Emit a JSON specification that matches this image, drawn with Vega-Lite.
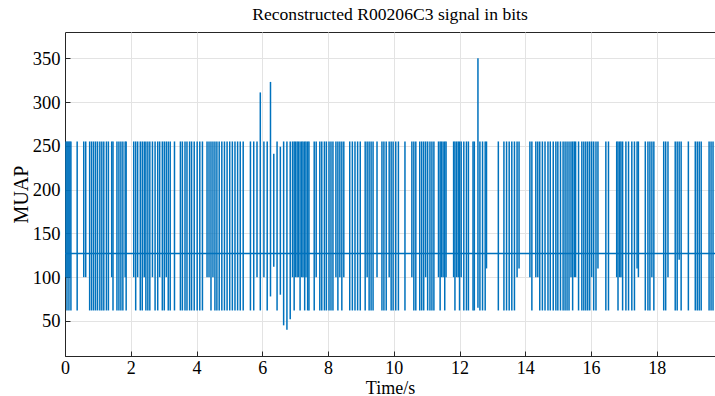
{
  "$schema": "https://vega.github.io/schema/vega-lite/v6.json",
  "width": 650,
  "height": 324,
  "autosize": {"type": "none"},
  "padding": {"left": 65, "top": 32, "right": 0, "bottom": 40},
  "background": "white",
  "title": {"text": "Reconstructed R00206C3 signal in bits", "font": "Liberation Serif", "fontSize": 17.6, "fontWeight": "normal", "color": "#000000", "offset": 8, "anchor": "middle"},
  "config": {
    "view": {"stroke": "#262626", "strokeWidth": 1},
    "axis": {"labelFont": "Liberation Serif", "labelFontSize": 18, "labelColor": "#000000", "titleFont": "Liberation Serif", "titleFontSize": 18, "titleFontWeight": "normal", "titleColor": "#000000", "domainColor": "#262626", "tickColor": "#262626", "gridColor": "#e3e3e3", "grid": true, "tickSize": -5}
  },
  "datasets": {
    "base": [{"level": 127}],
    "spikes": [
      {"t":0.03,"lo":100,"hi":255},{"t":0.06,"lo":62,"hi":255},{"t":0.09,"lo":100,"hi":255},{"t":0.12,"lo":62,"hi":255},{"t":0.15,"lo":100,"hi":255},{"t":0.18,"lo":62,"hi":255},
      {"t":0.37,"lo":62,"hi":255},{"t":0.57,"lo":100,"hi":255},{"t":0.63,"lo":100,"hi":255},{"t":0.75,"lo":62,"hi":255},{"t":0.81,"lo":62,"hi":255},{"t":0.87,"lo":62,"hi":255},{"t":0.93,"lo":62,"hi":255},{"t":0.99,"lo":62,"hi":255},{"t":1.06,"lo":62,"hi":255},{"t":1.12,"lo":62,"hi":255},{"t":1.18,"lo":62,"hi":255},{"t":1.26,"lo":62,"hi":255},{"t":1.32,"lo":62,"hi":255},{"t":1.42,"lo":100,"hi":255},{"t":1.46,"lo":62,"hi":255},{"t":1.58,"lo":62,"hi":255},{"t":1.64,"lo":62,"hi":255},{"t":1.70,"lo":62,"hi":255},{"t":1.76,"lo":62,"hi":255},{"t":1.83,"lo":100,"hi":255},{"t":1.86,"lo":62,"hi":255},
      {"t":2.09,"lo":100,"hi":255},{"t":2.15,"lo":62,"hi":255},{"t":2.21,"lo":100,"hi":255},{"t":2.29,"lo":62,"hi":255},{"t":2.35,"lo":62,"hi":255},{"t":2.41,"lo":100,"hi":255},{"t":2.46,"lo":62,"hi":255},{"t":2.52,"lo":62,"hi":255},{"t":2.58,"lo":62,"hi":255},{"t":2.66,"lo":100,"hi":255},{"t":2.74,"lo":62,"hi":255},{"t":2.82,"lo":62,"hi":255},{"t":2.88,"lo":100,"hi":255},{"t":2.96,"lo":62,"hi":255},{"t":3.02,"lo":62,"hi":255},{"t":3.08,"lo":100,"hi":255},{"t":3.14,"lo":62,"hi":255},{"t":3.20,"lo":62,"hi":255},{"t":3.33,"lo":62,"hi":255},
      {"t":3.51,"lo":62,"hi":255},{"t":3.57,"lo":62,"hi":255},{"t":3.65,"lo":62,"hi":255},{"t":3.71,"lo":62,"hi":255},{"t":3.79,"lo":62,"hi":255},{"t":3.85,"lo":62,"hi":255},{"t":3.93,"lo":62,"hi":255},{"t":4.02,"lo":62,"hi":255},{"t":4.10,"lo":62,"hi":255},{"t":4.18,"lo":62,"hi":255},{"t":4.32,"lo":100,"hi":255},{"t":4.38,"lo":100,"hi":255},{"t":4.44,"lo":62,"hi":255},{"t":4.50,"lo":100,"hi":255},{"t":4.56,"lo":62,"hi":255},{"t":4.62,"lo":62,"hi":255},{"t":4.69,"lo":62,"hi":255},{"t":4.77,"lo":62,"hi":255},{"t":4.85,"lo":62,"hi":255},{"t":4.93,"lo":62,"hi":255},
      {"t":5.01,"lo":62,"hi":255},{"t":5.09,"lo":62,"hi":255},{"t":5.17,"lo":62,"hi":255},{"t":5.25,"lo":62,"hi":255},{"t":5.33,"lo":62,"hi":255},{"t":5.42,"lo":62,"hi":255},{"t":5.64,"lo":62,"hi":255},{"t":5.74,"lo":62,"hi":255},{"t":5.84,"lo":100,"hi":255},{"t":5.94,"lo":62,"hi":311},{"t":6.05,"lo":100,"hi":255},{"t":6.15,"lo":62,"hi":255},{"t":6.25,"lo":78,"hi":323},{"t":6.35,"lo":112,"hi":241},{"t":6.45,"lo":62,"hi":255},{"t":6.55,"lo":80,"hi":249},{"t":6.65,"lo":45,"hi":255},{"t":6.75,"lo":40,"hi":255},{"t":6.85,"lo":52,"hi":255},
      {"t":6.92,"lo":100,"hi":255},{"t":6.97,"lo":62,"hi":255},{"t":7.01,"lo":100,"hi":255},{"t":7.06,"lo":100,"hi":255},{"t":7.10,"lo":100,"hi":255},{"t":7.15,"lo":62,"hi":255},{"t":7.20,"lo":100,"hi":255},{"t":7.24,"lo":100,"hi":255},{"t":7.29,"lo":62,"hi":255},{"t":7.33,"lo":100,"hi":255},{"t":7.38,"lo":62,"hi":255},{"t":7.42,"lo":62,"hi":255},
      {"t":7.58,"lo":62,"hi":255},{"t":7.64,"lo":100,"hi":255},{"t":7.75,"lo":62,"hi":255},{"t":7.81,"lo":62,"hi":255},{"t":7.89,"lo":62,"hi":255},{"t":7.95,"lo":62,"hi":255},{"t":8.03,"lo":62,"hi":255},{"t":8.09,"lo":62,"hi":255},{"t":8.15,"lo":62,"hi":255},{"t":8.24,"lo":100,"hi":255},{"t":8.30,"lo":62,"hi":255},{"t":8.36,"lo":100,"hi":255},{"t":8.42,"lo":62,"hi":255},{"t":8.48,"lo":100,"hi":255},
      {"t":8.66,"lo":62,"hi":255},{"t":8.74,"lo":62,"hi":255},{"t":8.82,"lo":62,"hi":255},{"t":8.90,"lo":62,"hi":255},{"t":8.98,"lo":62,"hi":255},{"t":9.13,"lo":62,"hi":255},{"t":9.19,"lo":100,"hi":255},{"t":9.25,"lo":62,"hi":255},{"t":9.31,"lo":62,"hi":255},{"t":9.37,"lo":62,"hi":255},{"t":9.49,"lo":100,"hi":255},{"t":9.64,"lo":62,"hi":255},{"t":9.70,"lo":62,"hi":255},{"t":9.77,"lo":62,"hi":255},{"t":9.86,"lo":100,"hi":255},{"t":9.92,"lo":62,"hi":255},
      {"t":9.98,"lo":62,"hi":255},{"t":10.06,"lo":62,"hi":255},{"t":10.14,"lo":62,"hi":255},{"t":10.34,"lo":62,"hi":255},{"t":10.55,"lo":100,"hi":255},{"t":10.61,"lo":62,"hi":255},{"t":10.67,"lo":62,"hi":255},{"t":10.79,"lo":62,"hi":255},{"t":10.85,"lo":62,"hi":255},{"t":10.91,"lo":62,"hi":255},{"t":10.97,"lo":100,"hi":255},{"t":11.03,"lo":62,"hi":255},{"t":11.10,"lo":62,"hi":255},{"t":11.16,"lo":62,"hi":255},{"t":11.22,"lo":62,"hi":255},
      {"t":11.36,"lo":100,"hi":255},{"t":11.41,"lo":62,"hi":255},{"t":11.45,"lo":100,"hi":255},{"t":11.50,"lo":100,"hi":255},{"t":11.55,"lo":62,"hi":255},{"t":11.59,"lo":100,"hi":255},
      {"t":11.82,"lo":100,"hi":255},{"t":11.86,"lo":62,"hi":255},{"t":11.91,"lo":100,"hi":255},{"t":11.96,"lo":100,"hi":255},{"t":12.00,"lo":62,"hi":255},{"t":12.05,"lo":100,"hi":255},{"t":12.13,"lo":62,"hi":255},{"t":12.21,"lo":62,"hi":255},{"t":12.27,"lo":62,"hi":255},{"t":12.41,"lo":62,"hi":255},
      {"t":12.45,"lo":62,"hi":255},{"t":12.56,"lo":65,"hi":350},{"t":12.62,"lo":62,"hi":255},{"t":12.70,"lo":62,"hi":255},{"t":12.78,"lo":62,"hi":255},{"t":12.82,"lo":110,"hi":255},
      {"t":13.18,"lo":62,"hi":255},{"t":13.35,"lo":62,"hi":255},{"t":13.43,"lo":62,"hi":255},{"t":13.51,"lo":62,"hi":255},{"t":13.59,"lo":62,"hi":255},{"t":13.67,"lo":62,"hi":255},{"t":13.75,"lo":100,"hi":255},{"t":13.81,"lo":110,"hi":255},
      {"t":14.14,"lo":100,"hi":255},{"t":14.20,"lo":62,"hi":255},{"t":14.32,"lo":100,"hi":255},{"t":14.38,"lo":100,"hi":255},{"t":14.44,"lo":62,"hi":255},{"t":14.52,"lo":62,"hi":255},{"t":14.60,"lo":62,"hi":255},{"t":14.69,"lo":62,"hi":255},{"t":14.76,"lo":62,"hi":255},{"t":14.85,"lo":62,"hi":255},{"t":14.93,"lo":62,"hi":255},
      {"t":14.99,"lo":62,"hi":255},{"t":15.07,"lo":62,"hi":255},{"t":15.15,"lo":62,"hi":255},{"t":15.21,"lo":62,"hi":255},{"t":15.27,"lo":62,"hi":255},{"t":15.33,"lo":62,"hi":255},{"t":15.39,"lo":100,"hi":255},{"t":15.44,"lo":62,"hi":255},{"t":15.49,"lo":100,"hi":255},{"t":15.53,"lo":100,"hi":255},{"t":15.62,"lo":62,"hi":255},{"t":15.72,"lo":62,"hi":255},{"t":15.78,"lo":62,"hi":255},{"t":15.84,"lo":62,"hi":255},{"t":15.90,"lo":62,"hi":255},{"t":15.96,"lo":62,"hi":255},{"t":16.02,"lo":100,"hi":255},{"t":16.08,"lo":62,"hi":255},{"t":16.15,"lo":62,"hi":255},{"t":16.21,"lo":110,"hi":255},
      {"t":16.45,"lo":62,"hi":255},{"t":16.53,"lo":62,"hi":255},{"t":16.78,"lo":100,"hi":255},{"t":16.82,"lo":62,"hi":255},{"t":16.87,"lo":100,"hi":255},{"t":16.91,"lo":100,"hi":255},{"t":16.96,"lo":62,"hi":255},{"t":17.06,"lo":62,"hi":255},{"t":17.14,"lo":62,"hi":255},{"t":17.24,"lo":62,"hi":255},{"t":17.32,"lo":62,"hi":255},{"t":17.40,"lo":110,"hi":255},{"t":17.44,"lo":100,"hi":255},
      {"t":17.65,"lo":62,"hi":255},{"t":17.73,"lo":62,"hi":255},{"t":17.79,"lo":62,"hi":255},{"t":17.85,"lo":100,"hi":255},{"t":17.91,"lo":62,"hi":255},{"t":18.21,"lo":62,"hi":255},{"t":18.27,"lo":62,"hi":255},{"t":18.34,"lo":100,"hi":255},{"t":18.56,"lo":62,"hi":255},{"t":18.62,"lo":62,"hi":255},{"t":18.68,"lo":120,"hi":255},{"t":18.74,"lo":62,"hi":255},{"t":18.96,"lo":62,"hi":255},
      {"t":19.17,"lo":62,"hi":255},{"t":19.23,"lo":62,"hi":255},{"t":19.29,"lo":62,"hi":255},{"t":19.35,"lo":62,"hi":255},{"t":19.59,"lo":62,"hi":255},{"t":19.65,"lo":62,"hi":255},{"t":19.71,"lo":62,"hi":255}
    ]
  },
  "layer": [
    {
      "data": {"name": "spikes"},
      "mark": {"type": "rule", "color": "#0072BD", "strokeWidth": 1.5},
      "encoding": {
        "x": {"field": "t", "type": "quantitative", "scale": {"domain": [0, 19.77], "nice": false, "zero": false}, "axis": {"title": "Time/s", "values": [0, 2, 4, 6, 8, 10, 12, 14, 16, 18], "labelPadding": 8, "titlePadding": 2, "labelFlush": false}},
        "y": {"field": "lo", "type": "quantitative", "scale": {"domain": [10, 380], "nice": false, "zero": false}, "axis": {"title": "MUAP", "titleFontSize": 20, "titleX": -34, "values": [50, 100, 150, 200, 250, 300, 350], "labelPadding": 10, "labelFontSize": 18.5, "labelFlush": false}},
        "y2": {"field": "hi"}
      }
    },
    {
      "data": {"name": "base"},
      "mark": {"type": "rule", "color": "#0072BD", "strokeWidth": 1.5},
      "encoding": {
        "y": {"field": "level", "type": "quantitative"}
      }
    }
  ]
}
